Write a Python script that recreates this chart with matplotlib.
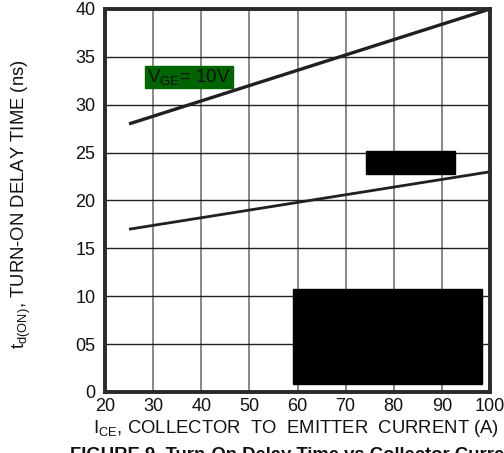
import matplotlib
matplotlib.use("Agg")
import matplotlib.pyplot as plt
from matplotlib.patches import Rectangle

plt.rcParams['font.family'] = ['Liberation Sans', 'DejaVu Sans']
plt.rcParams['mathtext.fontset'] = 'custom'
plt.rcParams['mathtext.rm'] = 'Liberation Sans'

# data
ice = [25, 100]
td_on_upper = [28, 40]
td_on_lower = [17, 23]
x_ticks = [20, 30, 40, 50, 60, 70, 80, 90, 100]
y_ticks = [0, 5, 10, 15, 20, 25, 30, 35, 40]
y_tick_labels = ['0', '05', '10', '15', '20', '25', '30', '35', '40']

fig = plt.figure(figsize=(5.04, 4.53), dpi=100)
ax = fig.add_axes([105 / 504, 1 - 392 / 453, 385 / 504, 383 / 453])
ax.set_xlim(20, 100)
ax.set_ylim(0, 40)

ax.set_xticks(x_ticks)
ax.set_yticks(y_ticks)
ax.set_yticklabels(y_tick_labels)
ax.tick_params(length=0, labelsize=13, colors='#111111', pad=7)
ax.tick_params(axis='x', pad=4)

ax.grid(axis='x', color='#7f7f7f', lw=1.3)
ax.grid(axis='y', color='#222222', lw=1.0)
ax.set_axisbelow(True)
for s in ax.spines.values():
    s.set_linewidth(2.8)
    s.set_color('#2a2a2a')

ax.plot(ice, td_on_upper, color='#231f20', lw=2.4, solid_capstyle='butt', clip_on=False)
ax.plot(ice, td_on_lower, color='#231f20', lw=2.0, solid_capstyle='butt', clip_on=False)

# label box and blacked-out regions
ax.add_patch(Rectangle((28.3, 31.7), 18.3, 2.3, color='#006400', zorder=3))
ax.text(28.8, 32.9, r'$\mathregular{V_{GE}}$= 10V', fontsize=13.5, va='center', ha='left',
        color='#111111', zorder=4)
ax.add_patch(Rectangle((74.3, 22.8), 18.5, 2.4, color='black', zorder=3))
ax.add_patch(Rectangle((59.1, 0.85), 39.3, 9.9, color='black', zorder=3))

fig.text(296 / 504, (453 - 433) / 453, r'I$\mathregular{_{CE}}$, COLLECTOR  TO  EMITTER  CURRENT (A)',
         fontsize=13.3, ha='center', va='baseline', color='#111111')
fig.text(21 / 504, 1 - 204 / 453, r't$\mathregular{_{d(ON)}}$, TURN-ON DELAY TIME (ns)',
         fontsize=13.3, ha='center', va='center', rotation=90, color='#111111')
fig.text(70 / 504, (453 - 460) / 453, 'FIGURE 9. Turn-On Delay Time vs Collector Current',
         fontsize=13.3, fontweight='bold', ha='left', va='baseline', color='#111111')

fig.savefig('out.png', dpi=100)
